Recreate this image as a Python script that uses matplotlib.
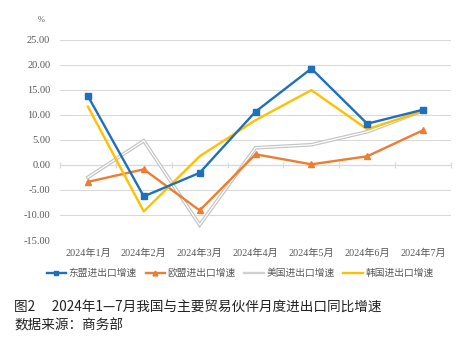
import matplotlib
matplotlib.use("Agg")
import matplotlib.pyplot as plt
import matplotlib.transforms as mtransforms
from matplotlib.lines import Line2D

months = ["2024年1月", "2024年2月", "2024年3月", "2024年4月", "2024年5月", "2024年6月", "2024年7月"]
asean = [13.7, -6.3, -1.6, 10.6, 19.2, 8.2, 11.0]
eu = [-3.4, -0.9, -9.1, 2.1, 0.1, 1.7, 6.9]
usa = [-2.5, 4.8, -12.0, 3.4, 4.0, 6.6, 10.8]
korea = [11.6, -9.3, 1.7, 8.9, 14.9, 7.1, 10.7]
series_names = ["东盟进出口增速", "欧盟进出口增速", "美国进出口增速", "韩国进出口增速"]
yticks = [25, 20, 15, 10, 5, 0, -5, -10, -15]

BLUE = "#1F6FBF"
ORANGE = "#ED7D31"
GRAY = "#C4C4C4"
YELLOW = "#FFC000"
TICK = "#595959"
GRID = "#D9D9D9"

serif = ["Liberation Serif", "Noto Sans CJK SC"]
cjk = ["Noto Sans CJK SC", "DejaVu Sans"]

fig = plt.figure(figsize=(4.69, 3.45), dpi=100)
ax = fig.add_axes([60 / 469, 1 - 240 / 345, 391 / 469, 200.5 / 345])

x = list(range(len(months)))

# US series: light double-stroke line (gray rim, white core)
ax.plot(x, usa, color=GRAY, lw=2.6, zorder=3, solid_joinstyle="miter")
ax.plot(x, usa, color="white", lw=0.9, zorder=3.1, solid_joinstyle="miter")
ax.plot(x, eu, color=ORANGE, lw=1.7, marker="^", ms=4.5, zorder=4)
ax.plot(x, asean, color=BLUE, lw=1.7, marker="s", ms=4.5, zorder=5)
ax.plot(x, korea, color=YELLOW, lw=1.7, zorder=4.5)

ax.set_xlim(-0.5, len(months) - 0.5)
ax.set_ylim(-15, 25)
ax.set_yticks(yticks)
ax.set_yticklabels([f"{v:.2f}" for v in yticks], family=serif, fontsize=7.5, color=TICK)
ax.tick_params(axis="y", length=0, pad=7)
ax.grid(axis="y", color=GRID, lw=0.75, zorder=0)

for side in ["left", "right", "top"]:
    ax.spines[side].set_visible(False)
ax.spines["bottom"].set_position(("data", 0))
ax.spines["bottom"].set_color(GRID)
ax.spines["bottom"].set_linewidth(0.9)
ax.set_xticks([i - 0.5 for i in range(len(months) + 1)])
ax.set_xticklabels([])
ax.tick_params(axis="x", length=4, direction="inout", color=GRID, width=0.9)

# category labels under the plot area
trans = mtransforms.blended_transform_factory(ax.transData, ax.transAxes)
for i, m in enumerate(months):
    ax.text(i, -0.068, m, transform=trans, ha="center", va="center",
            family=serif, fontsize=7.3, color=TICK)

fig.text(41 / 469, 1 - 20 / 345, "%", ha="center", va="center",
         family=serif, fontsize=6, color=TICK)

handles = [
    Line2D([], [], color=BLUE, lw=1.7, marker="s", ms=3.5),
    Line2D([], [], color=ORANGE, lw=1.7, marker="^", ms=3.5),
    Line2D([], [], color="#D0D0D0", lw=1.7),
    Line2D([], [], color=YELLOW, lw=1.7),
]
leg = fig.legend(handles, series_names, loc="center", bbox_to_anchor=(240 / 469, 1 - 273 / 345),
                 ncol=4, frameon=False, prop={"family": cjk, "size": 7},
                 handlelength=2.0, handletextpad=0.25, columnspacing=0.9, labelcolor=TICK)

fig.text(14 / 469, 1 - 307 / 345, "图2\u3000 2024年1—7月我国与主要贸易伙伴月度进出口同比增速",
         ha="left", va="center", family=cjk, fontsize=9.8, color="#222222")
fig.text(14 / 469, 1 - 325 / 345, "数据来源：商务部",
         ha="left", va="center", family=cjk, fontsize=9.8, color="#222222")

fig.savefig("out.png", dpi=100, facecolor="white")
